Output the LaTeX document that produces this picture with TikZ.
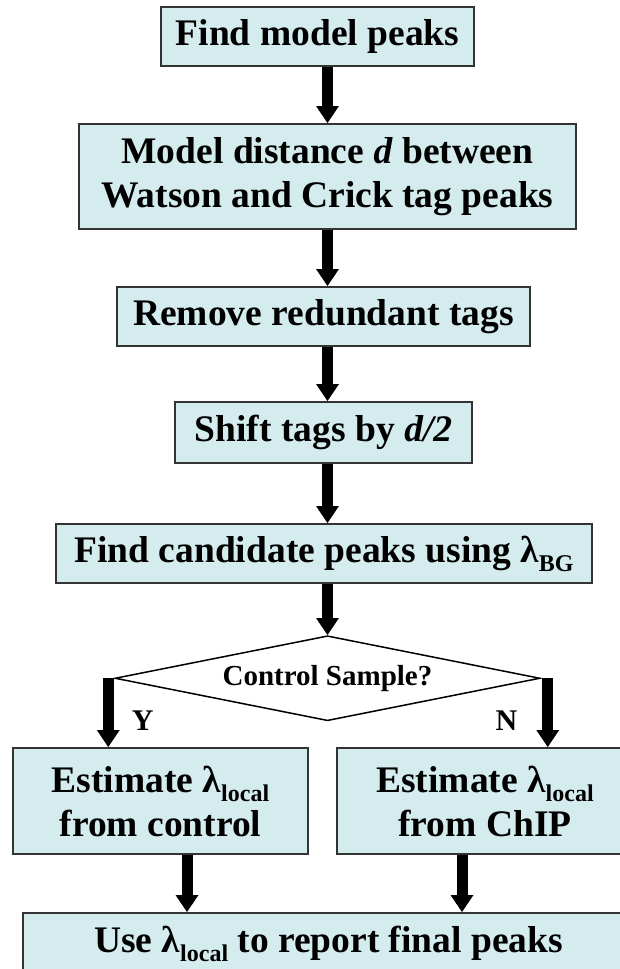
\documentclass[tikz,border=0pt]{standalone}
\usepackage{fontspec}
\setmainfont{Liberation Serif}
\usepackage{tikz}
\usetikzlibrary{positioning}
\usetikzlibrary{shapes.geometric}
\usetikzlibrary{arrows.meta}

\definecolor{boxcyan}{RGB}{213,236,238}
\newcommand{\lamsub}[1]{λ\raisebox{-9pt}{\fontsize{24}{24}\selectfont #1}}

\begin{document}
\begin{tikzpicture}[x = 1pt, y = -1pt,
    box/.style = {draw = black!80, line width = 2, fill = boxcyan, align = center, inner sep = 0pt,
        font = \fontsize{37.5}{44}\selectfont\bfseries, minimum height = 59pt},
    decision/.style = {diamond, draw = black, line width = 1.5, aspect = 5, minimum width = 425pt,
        minimum height = 85pt, inner sep = 0pt, font = \fontsize{29}{30}\selectfont\bfseries},
    flow/.style = {-{Triangle[width = 23pt, length = 17pt, line width = 0pt]}, line width = 11},
    answer/.style = {inner sep = 0pt, font = \fontsize{30}{30}\selectfont\bfseries}]
    \useasboundingbox (0,0) rectangle (620,969);
    \clip (0,0) rectangle (620,969);
    % nodes %
    \node[box, minimum width = 313pt] (peaks) at (317.5,36.5) {Find model peaks};
    \node[box, below = 56pt of peaks, xshift = 10pt, minimum width = 497pt, minimum height = 105pt] (dist)
        {Model distance \textit{d} between\\Watson and Crick tag peaks};
    \node[box, below = 56pt of dist, xshift = -4pt, minimum width = 413pt] (redund) {Remove redundant tags};
    \node[box, below = 54pt of redund, minimum width = 297pt, minimum height = 61pt] (shift) {Shift tags by \textit{d/2}};
    \node[box, below = 59pt of shift, xshift = 0.5pt, minimum width = 536pt] (cand) {Find candidate peaks using \lamsub{BG}};
    \node[decision, below = 51pt of cand, xshift = 3.5pt] (ctrl) {Control Sample?};
    \node[box, minimum width = 295pt, minimum height = 106pt] (fromctrl) at (160.5,801)
        {Estimate \lamsub{local}\\from control};
    \node[box, minimum width = 296pt, minimum height = 106pt] (fromchip) at (485,801)
        {Estimate \lamsub{local}\\from ChIP};
    \node[box, minimum width = 611pt, minimum height = 62pt] (report) at (328.5,944)
        {Use \lamsub{local} to report final peaks};
    % edges %
    \draw[flow] (dist |- peaks.south) -- (dist.north);
    \draw[flow] (dist.south) -- (dist |- redund.north);
    \draw[flow] (dist |- redund.south) -- (dist |- shift.north);
    \draw[flow] (dist |- shift.south) -- (dist |- cand.north);
    \draw[flow] (dist |- cand.south) -- (ctrl.north);
    \draw[flow] ([xshift = -6pt]ctrl.west) -- node[answer, right = 18pt, pos = 0.62] {Y}
        ([xshift = -6pt]ctrl.west |- fromctrl.north);
    \draw[flow] ([xshift = 7pt]ctrl.east) -- node[answer, left = 25pt, pos = 0.62] {N}
        ([xshift = 7pt]ctrl.east |- fromchip.north);
    \draw[flow] ([xshift = 26.5pt]fromctrl.south) -- ([xshift = 26.5pt]fromctrl.south |- report.north);
    \draw[flow] ([xshift = -23pt]fromchip.south) -- ([xshift = -23pt]fromchip.south |- report.north);
\end{tikzpicture}
\end{document}
